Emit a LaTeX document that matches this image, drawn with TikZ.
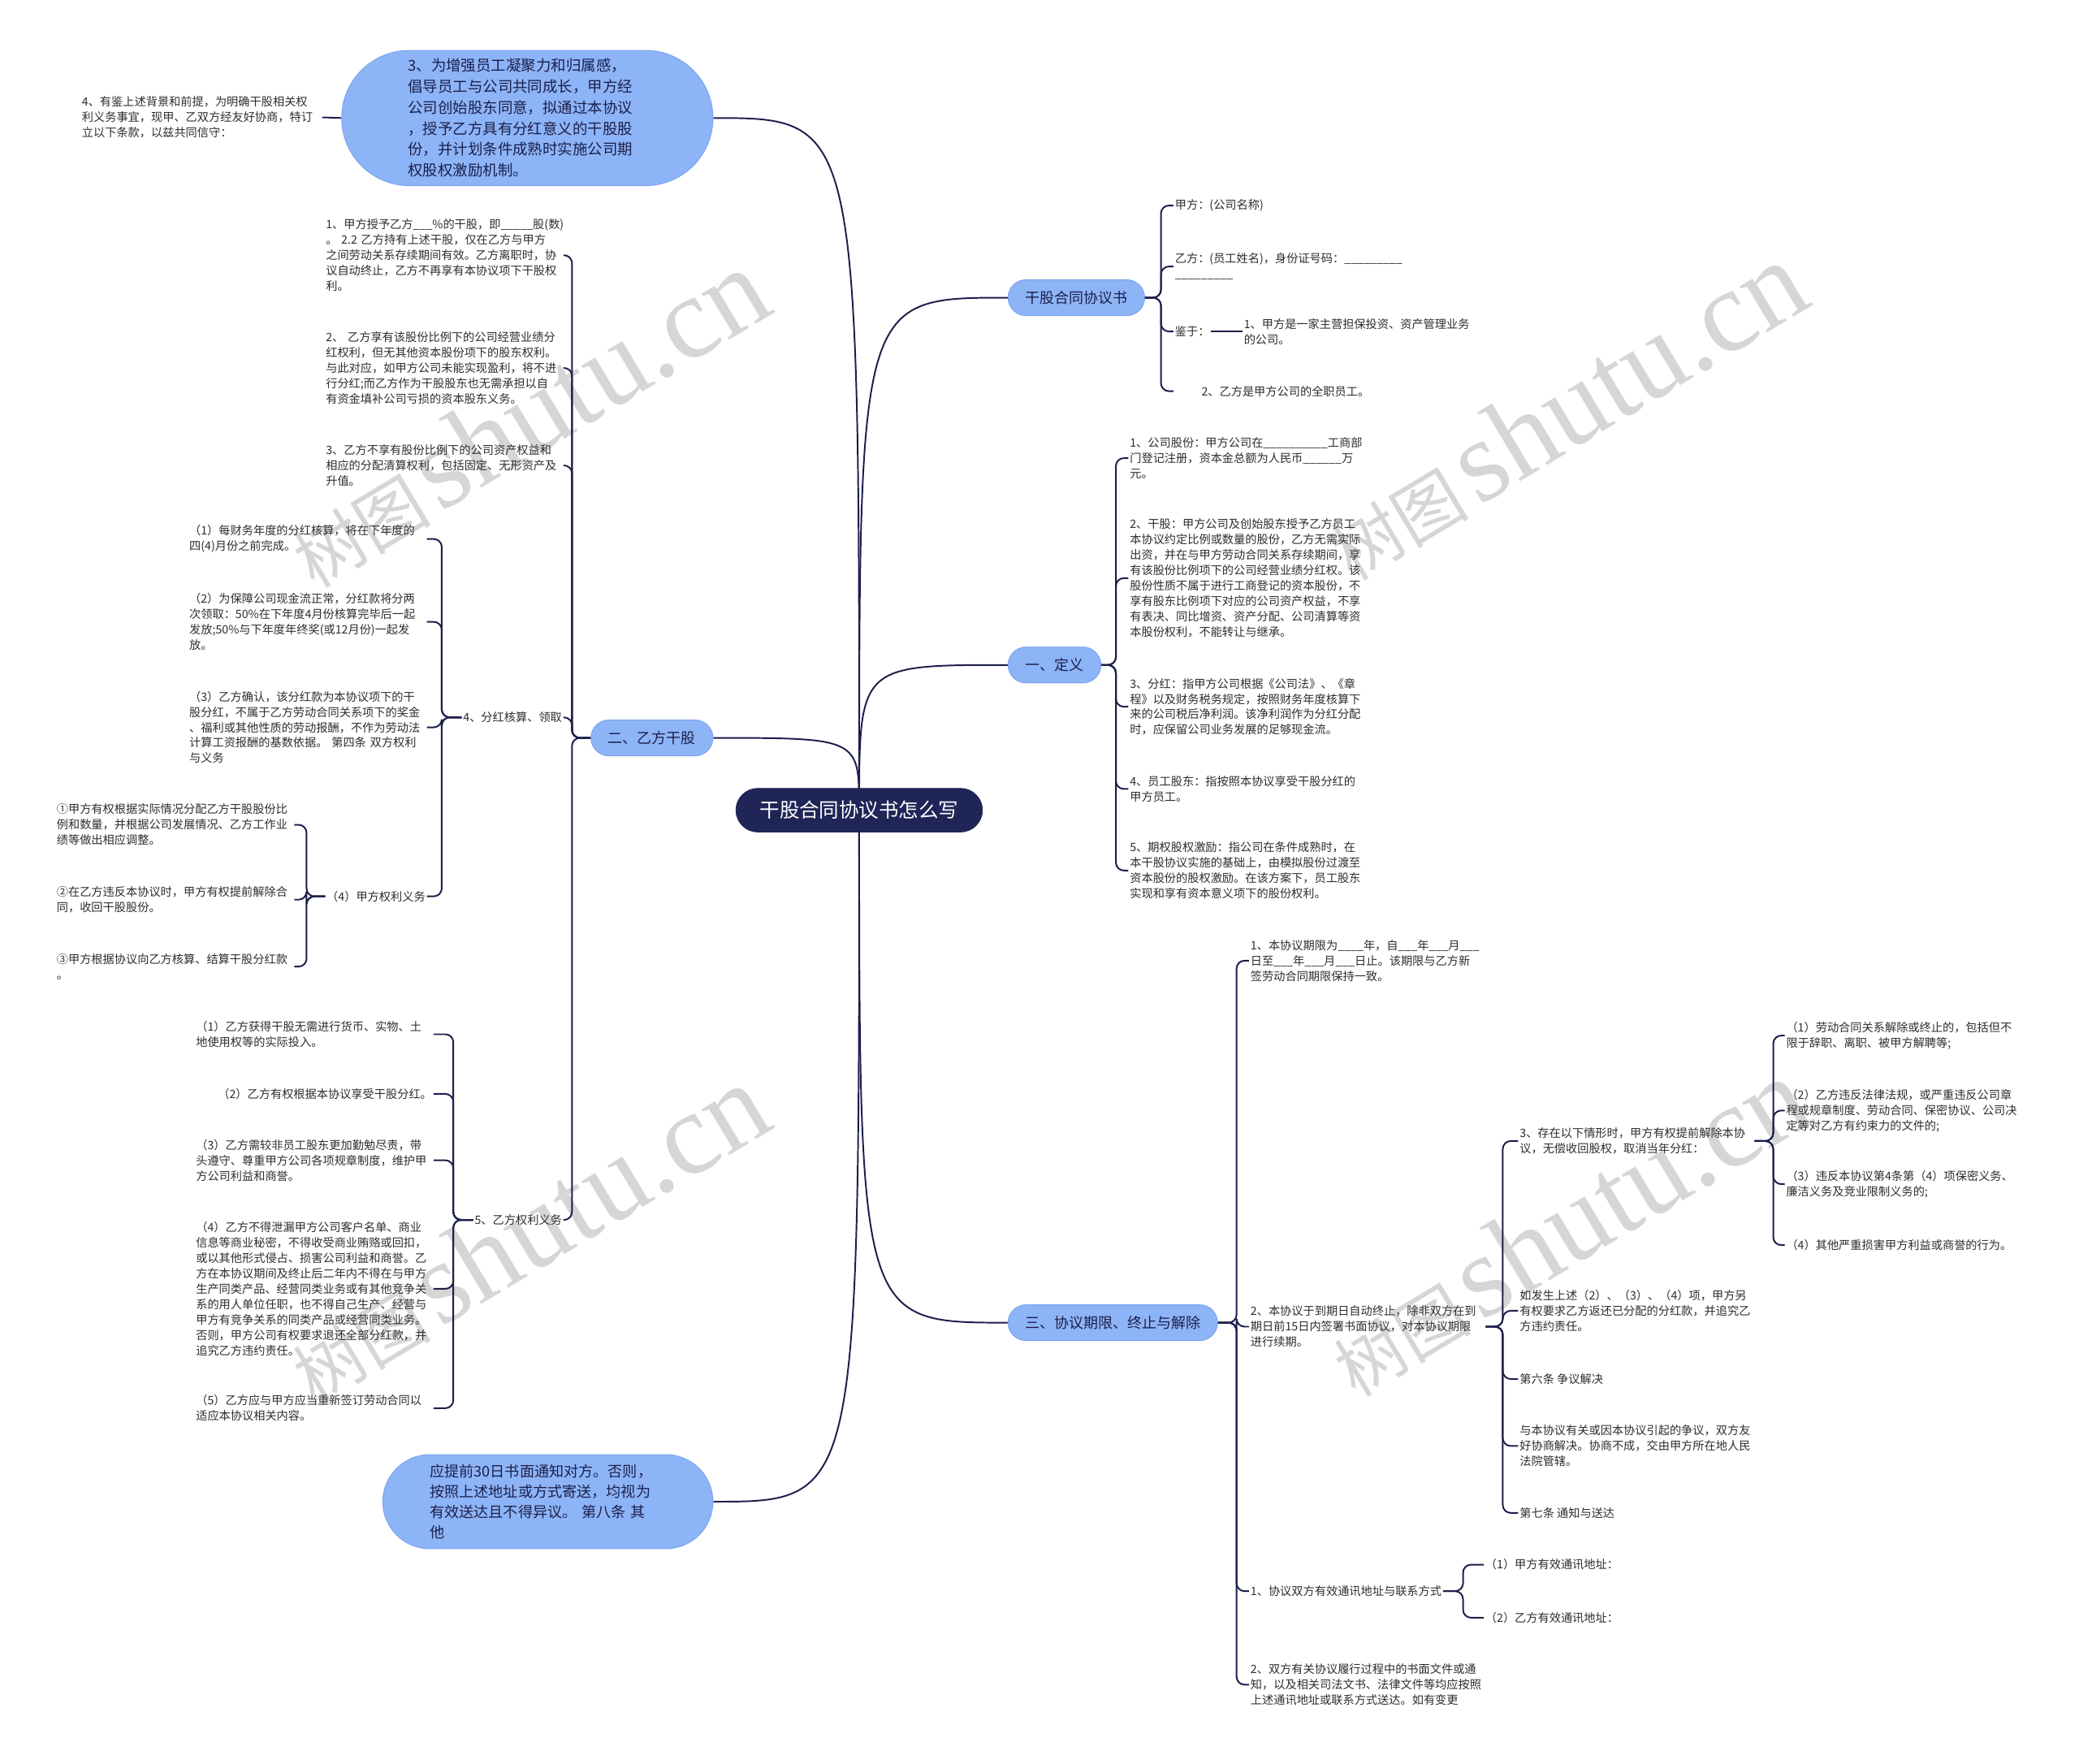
\documentclass[tikz,border=0pt]{standalone}
\usepackage{fontspec}
\setmainfont{Noto Sans CJK SC}
\newfontfamily\wmlatin{Liberation Serif}
\usetikzlibrary{backgrounds}
\definecolor{navy}{RGB}{28,31,74}
\definecolor{rootfill}{RGB}{32,37,88}
\definecolor{bub}{RGB}{141,180,247}
\definecolor{bubline}{RGB}{124,163,238}
\definecolor{wm}{RGB}{214,214,214}
\definecolor{txtc}{RGB}{45,45,45}
\begin{document}
\begin{tikzpicture}[x=1pt,y=-1pt,
  conn/.style={draw=navy, line width=1.2pt, rounded corners=6pt},
  brR/.style={to path={-- ++(#1,0) |- (\tikztotarget)}},
  brL/.style={to path={-- ++(-#1,0) |- (\tikztotarget)}},
  txt/.style={inner sep=1pt, align=left, text=txtc, font=\fontsize{8.7}{11.6}\selectfont},
  brn/.style={fill=bub, draw=bubline, line width=0.6pt, rounded corners=13.5pt, minimum height=27pt, inner xsep=13pt, inner ysep=0pt, text=navy, font=\fontsize{11}{13}\selectfont},
  bubble/.style={fill=bub, draw=bubline, line width=0.6pt, align=left, inner sep=0pt, text=navy},
  rootn/.style={fill=rootfill, draw=rootfill, text=white, rounded corners=16.5pt, minimum height=33pt, minimum width=186pt, inner sep=0pt, font=\fontsize{15}{18}\selectfont},
  wmk/.style={text=wm, inner sep=0pt, rotate=31}
]
\useasboundingbox (0,0) rectangle (1568,1330);

% root and branches
\node[rootn] (root) at (648,611) {干股合同协议书怎么写};
\node[brn, anchor=west] (gg) at (760,224.5) {干股合同协议书};
\node[brn, anchor=west] (dy) at (760,501.5) {一、定义};
\node[brn, anchor=west] (qx) at (760,997.5) {三、协议期限、终止与解除};
\node[brn, anchor=east] (yf) at (538,556.5) {二、乙方干股};
\node[bubble, anchor=east, minimum width=280pt, minimum height=102pt, rounded corners=51pt, text width=180pt, font=\fontsize{11.3}{15.8}\selectfont] (tb) at (538,89) {3、为增强员工凝聚力和归属感，\\倡导员工与公司共同成长，甲方经\\公司创始股东同意，拟通过本协议\\，授予乙方具有分红意义的干股股\\份，并计划条件成熟时实施公司期\\权股权激励机制。};
\node[bubble, anchor=east, minimum width=249pt, minimum height=71pt, rounded corners=35.5pt, text width=178pt, font=\fontsize{11.1}{15.4}\selectfont] (bb) at (538,1132.5) {应提前30日书面通知对方。否则，\\按照上述地址或方式寄送，均视为\\有效送达且不得异议。~第八条~其\\他};
\node[txt, anchor=east, text width=180pt] (yj) at (243,88.5) {4、有鉴上述背景和前提，为明确干股相关权\\利义务事宜，现甲、乙双方经友好协商，特订\\立以下条款，以兹共同信守：};

% right: gg children
\node[txt, anchor=west] (jf) at (885,155) {甲方：(公司名称)};
\node[txt, anchor=west] (yid) at (885,201) {乙方：(员工姓名)，身份证号码：\_\_\_\_\_\_\_\_\_\\\_\_\_\_\_\_\_\_\_};
\node[txt, anchor=west] (jy) at (885,250) {鉴于：};
\node[txt, anchor=west, text width=174pt] (jy1) at (937,250) {1、甲方是一家主营担保投资、资产管理业务\\的公司。};
\node[txt, anchor=west] (yg) at (885,295) {\hspace*{20pt}2、乙方是甲方公司的全职员工。};

% right: dy children
\node[txt, anchor=west, text width=178pt] (d1) at (851,345.5) {1、公司股份：甲方公司在\_\_\_\_\_\_\_\_\_\_工商部\\门登记注册，资本金总额为人民币\_\_\_\_\_\_万\\元。};
\node[txt, anchor=west, text width=178pt] (d2) at (851,436) {2、干股：甲方公司及创始股东授予乙方员工\\本协议约定比例或数量的股份，乙方无需实际\\出资，并在与甲方劳动合同关系存续期间，享\\有该股份比例项下的公司经营业绩分红权。该\\股份性质不属于进行工商登记的资本股份，不\\享有股东比例项下对应的公司资产权益，不享\\有表决、同比增资、资产分配、公司清算等资\\本股份权利，不能转让与继承。};
\node[txt, anchor=west, text width=178pt] (d3) at (851,533) {3、分红：指甲方公司根据《公司法》、《章\\程》以及财务税务规定，按照财务年度核算下\\来的公司税后净利润。该净利润作为分红分配\\时，应保留公司业务发展的足够现金流。};
\node[txt, anchor=west, text width=178pt] (d4) at (851,595) {4、员工股东：指按照本协议享受干股分红的\\甲方员工。};
\node[txt, anchor=west, text width=178pt] (d5) at (851,656.5) {5、期权股权激励：指公司在条件成熟时，在\\本干股协议实施的基础上，由模拟股份过渡至\\资本股份的股权激励。在该方案下，员工股东\\实现和享有资本意义项下的股份权利。};

% right: qx children
\node[txt, anchor=west, text width=176pt] (q1) at (942,724.5) {1、本协议期限为\_\_\_\_年，自\_\_\_年\_\_\_月\_\_\_\\日至\_\_\_年\_\_\_月\_\_\_日止。该期限与乙方新\\签劳动合同期限保持一致。};
\node[txt, anchor=west, text width=176pt] (q2) at (942,1000.5) {2、本协议于到期日自动终止，除非双方在到\\期日前15日内签署书面协议，对本协议期限\\进行续期。};
\node[txt, anchor=west] (q3) at (942,1200) {1、协议双方有效通讯地址与联系方式};
\node[txt, anchor=west, text width=178pt] (q4) at (942,1270.5) {2、双方有关协议履行过程中的书面文件或通\\知，以及相关司法文书、法律文件等均应按照\\上述通讯地址或联系方式送达。如有变更};

% q2 children
\node[txt, anchor=west, text width=176pt] (c3) at (1145,860.5) {3、存在以下情形时，甲方有权提前解除本协\\议，无偿收回股权，取消当年分红：};
\node[txt, anchor=west, text width=176pt] (cr) at (1145,988.5) {如发生上述（2）、（3）、（4）项，甲方另\\有权要求乙方返还已分配的分红款，并追究乙\\方违约责任。};
\node[txt, anchor=west] (c6) at (1145,1040) {第六条~争议解决};
\node[txt, anchor=west, text width=176pt] (cz) at (1145,1090.5) {与本协议有关或因本协议引起的争议，双方友\\好协商解决。协商不成，交由甲方所在地人民\\法院管辖。};
\node[txt, anchor=west] (c7) at (1145,1141) {第七条~通知与送达};

% c3 children
\node[txt, anchor=west, text width=180pt] (e1) at (1346,781) {（1）劳动合同关系解除或终止的，包括但不\\限于辞职、离职、被甲方解聘等;};
\node[txt, anchor=west, text width=180pt] (e2) at (1346,837.5) {（2）乙方违反法律法规，或严重违反公司章\\程或规章制度、劳动合同、保密协议、公司决\\定等对乙方有约束力的文件的;};
\node[txt, anchor=west, text width=180pt] (e3) at (1346,893) {（3）违反本协议第4条第（4）项保密义务、\\廉洁义务及竞业限制义务的;};
\node[txt, anchor=west] (e4) at (1346,939) {（4）其他严重损害甲方利益或商誉的行为。};

% q3 children
\node[txt, anchor=west] (g1) at (1119,1180) {（1）甲方有效通讯地址：};
\node[txt, anchor=west] (g2) at (1119,1220) {（2）乙方有效通讯地址：};

% left: yf children
\node[txt, anchor=east, text width=178pt] (a1) at (425,192.5) {1、甲方授予乙方\_\_\_\%的干股，即\_\_\_\_\_股(数)\\。~2.2~乙方持有上述干股，仅在乙方与甲方\\之间劳动关系存续期间有效。乙方离职时，协\\议自动终止，乙方不再享有本协议项下干股权\\利。};
\node[txt, anchor=east, text width=178pt] (a2) at (425,277.5) {2、~乙方享有该股份比例下的公司经营业绩分\\红权利，但无其他资本股份项下的股东权利。\\与此对应，如甲方公司未能实现盈利，将不进\\行分红;而乙方作为干股股东也无需承担以自\\有资金填补公司亏损的资本股东义务。};
\node[txt, anchor=east, text width=178pt] (a3) at (425,351) {3、乙方不享有股份比例下的公司资产权益和\\相应的分配清算权利，包括固定、无形资产及\\升值。};
\node[txt, anchor=east] (a4) at (425,541) {4、分红核算、领取};
\node[txt, anchor=east] (a5) at (425,920) {5、乙方权利义务};

% a4 children
\node[txt, anchor=east, text width=178pt] (b1) at (322,406.5) {（1）每财务年度的分红核算，将在下年度的\\四(4)月份之前完成。};
\node[txt, anchor=east, text width=178pt] (b2) at (322,469) {（2）为保障公司现金流正常，分红款将分两\\次领取：50\%在下年度4月份核算完毕后一起\\发放;50\%与下年度年终奖(或12月份)一起发\\放。};
\node[txt, anchor=east, text width=178pt] (b3) at (322,548.5) {（3）乙方确认，该分红款为本协议项下的干\\股分红，不属于乙方劳动合同关系项下的奖金\\、福利或其他性质的劳动报酬，不作为劳动法\\计算工资报酬的基数依据。~第四条~双方权利\\与义务};
\node[txt, anchor=east] (b4) at (322,676) {（4）甲方权利义务};

% b4 children
\node[txt, anchor=east, text width=178pt] (h1) at (222,622) {①甲方有权根据实际情况分配乙方干股股份比\\例和数量，并根据公司发展情况、乙方工作业\\绩等做出相应调整。};
\node[txt, anchor=east, text width=178pt] (h2) at (222,678.5) {②在乙方违反本协议时，甲方有权提前解除合\\同，收回干股股份。};
\node[txt, anchor=east, text width=178pt] (h3) at (222,729) {③甲方根据协议向乙方核算、结算干股分红款\\。};

% a5 children
\node[txt, anchor=east, text width=178pt] (f1) at (327,780) {（1）乙方获得干股无需进行货币、实物、土\\地使用权等的实际投入。};
\node[txt, anchor=east] (f2) at (327,825) {（2）乙方有权根据本协议享受干股分红。};
\node[txt, anchor=east, text width=178pt] (f3) at (327,875) {（3）乙方需较非员工股东更加勤勉尽责，带\\头遵守、尊重甲方公司各项规章制度，维护甲\\方公司利益和商誉。};
\node[txt, anchor=east, text width=178pt] (f4) at (327,972) {（4）乙方不得泄漏甲方公司客户名单、商业\\信息等商业秘密，不得收受商业贿赂或回扣，\\或以其他形式侵占、损害公司利益和商誉。乙\\方在本协议期间及终止后二年内不得在与甲方\\生产同类产品、经营同类业务或有其他竞争关\\系的用人单位任职，也不得自己生产、经营与\\甲方有竞争关系的同类产品或经营同类业务。\\否则，甲方公司有权要求退还全部分红款，并\\追究乙方违约责任。};
\node[txt, anchor=east, text width=178pt] (f5) at (327,1062) {（5）乙方应与甲方应当重新签订劳动合同以\\适应本协议相关内容。};

\begin{scope}[on background layer]
\fill[white] (0,0) rectangle (1568,1330);
% watermarks
\foreach \p/\n in {{(397,315)}/w1,{(1180,310)}/w2,{(397,930)}/w3,{(1182,925)}/w4}
  \node[wmk] (\n) at \p {{\fontsize{52}{56}\selectfont 树图}\hspace{7pt}{\wmlatin\fontsize{88}{92}\selectfont shutu.cn}};
% root connectors
\draw[conn] (root.center) .. controls (root.center |- tb.east) .. (tb.east);
\draw[conn] (root.center) .. controls (root.center |- gg.west) .. (gg.west);
\draw[conn] (root.center) .. controls (root.center |- dy.west) .. (dy.west);
\draw[conn] (root.center) .. controls (root.center |- yf.east) .. (yf.east);
\draw[conn] (root.center) .. controls (root.center |- qx.west) .. (qx.west);
\draw[conn] (root.center) .. controls (root.center |- bb.east) .. (bb.east);
\end{scope}

\draw[conn] (tb.west) -- (yj.east);

\foreach \c in {jf,yid,jy,yg} \draw[conn] (gg.east) to[brR=12] (\c.west);
\draw[conn] (jy.east) -- (jy1.west);
\foreach \c in {d1,d2,d3,d4,d5} \draw[conn] (dy.east) to[brR=11] (\c.west);
\foreach \c in {q1,q2,q3,q4} \draw[conn] (qx.east) to[brR=14] (\c.west);
\foreach \c in {c3,cr,c6,cz,c7} \draw[conn] (q2.east) to[brR=13] (\c.west);
\foreach \c in {e1,e2,e3,e4} \draw[conn] (c3.east) to[brR=14] (\c.west);
\foreach \c in {g1,g2} \draw[conn] (q3.east) to[brR=15] (\c.west);

\foreach \c in {a1,a2,a3,a4,a5} \draw[conn] (yf.west) to[brL=14] (\c.east);
\foreach \c in {b1,b2,b3,b4} \draw[conn] (a4.west) to[brL=15] (\c.east);
\foreach \c in {h1,h2,h3} \draw[conn] (b4.west) to[brL=14] (\c.east);
\foreach \c in {f1,f2,f3,f4,f5} \draw[conn] (a5.west) to[brL=15] (\c.east);
\end{tikzpicture}
\end{document}
